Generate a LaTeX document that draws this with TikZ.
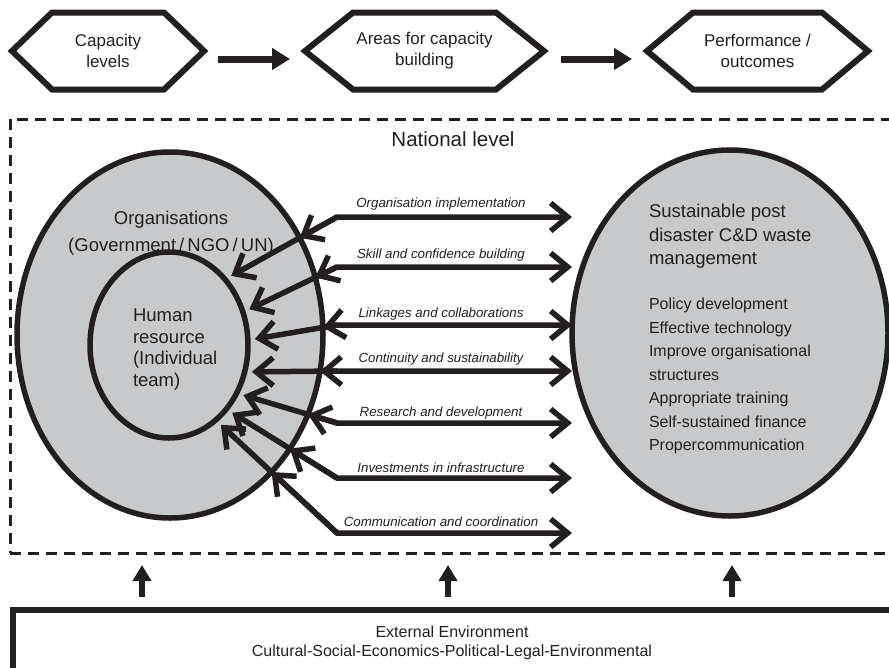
\documentclass[tikz,border=0pt]{standalone}
\usepackage{fontspec}
\setmainfont{Liberation Sans}
\usetikzlibrary{arrows.meta,shapes.geometric,intersections,calc}
\definecolor{fillg}{RGB}{200,201,203}
\definecolor{ink}{RGB}{35,31,32}
\newcommand\hexoutl[2]{\draw[hexline] (#1.west) -- ([xshift=#2]#1.north west) -- ([xshift=-#2]#1.north east) -- (#1.east) -- ([xshift=-#2]#1.south east) -- ([xshift=#2]#1.south west) -- cycle;}
\begin{document}
\begin{tikzpicture}[x=1pt,y=-1pt,
  every node/.style={text=ink, inner sep=0pt, outer sep=0pt},
  hexline/.style={draw=ink, line width=6pt, line join=miter},
  hextext/.style={minimum width=#1, minimum height=77pt, align=center, font=\fontsize{17}{21}\selectfont},
  flowarrow/.style={draw=ink, line width=7pt, -{Triangle[length=18pt,width=21pt]}},
  uparrow/.style={draw=ink, line width=6.5pt, -{Triangle[length=16pt,width=18pt]}},
  blob/.style={ellipse, draw=ink, fill=fillg, line width=5.5pt},
  conn/.style={draw=ink, line width=5.5pt},
  chev/.tip={Straight Barb[length=17pt,width=28pt]},
  lbl/.style={font=\fontsize{13.3}{15}\selectfont\itshape, anchor=base},
]
\useasboundingbox (0,0) rectangle (889,667);
\clip (0,0) rectangle (889,667);

% top flow
\node[hextext=192pt] (h1) at (108,51) {Capacity\\levels};
\node[hextext=239pt] (h2) at (424.5,51) {Areas for capacity\\building};
\node[hextext=221pt] (h3) at (757.5,51) {Performance /\\outcomes};
\hexoutl{h1}{40pt}
\hexoutl{h2}{48pt}
\hexoutl{h3}{46pt}
\draw[flowarrow] ([xshift=14pt,yshift=-8pt]h1.east) -- ([xshift=-15pt,yshift=-8pt]h2.west);
\draw[flowarrow] ([xshift=17pt,yshift=-8pt]h2.east) -- ([xshift=-15pt,yshift=-8pt]h3.west);

% national level frame
\node[draw=ink, dash pattern=on 11pt off 7pt, line width=3pt, minimum width=890pt, minimum height=434pt] (nat) at (455,336) {};
\node[font=\fontsize{20.5}{24}\selectfont] (natl) at (453,139) {National level};

% ellipses
\node[blob, minimum width=306pt, minimum height=366pt] (O) at (170,335) {};
\node[blob, minimum width=158pt, minimum height=186pt, outer sep=7pt] (I) at (169,345) {};
\node[blob, minimum width=316pt, minimum height=366pt] (R) at (730,333) {};

\node[font=\fontsize{18.5}{27}\selectfont, align=center] (orgt) at (171,233) {Organisations\\(Government\,/\,NGO\,/\,UN)};
\node[font=\fontsize{18.5}{21.7}\selectfont, align=left, anchor=north west] (hr) at (133,308.8) {Human\\resource\\(Individual\\team)};
\node[font=\fontsize{18.5}{23.5}\selectfont, align=left, anchor=north west] (sus) at (649,204.5) {Sustainable post\\disaster C\&D waste\\management};
\node[font=\fontsize{16}{23.5}\selectfont, align=left, anchor=north west] (list) at (649,298.3) {Policy development\\Effective technology\\Improve organisational\\structures\\Appropriate training\\Self-sustained finance\\Propercommunication};

% connectors
\path[name path=outerp] (O.center) ellipse [x radius=153pt, y radius=183pt];
\coordinate (b1) at (337,217);
\coordinate (b2) at (337,267);
\coordinate (b3) at (337,325);
\coordinate (b4) at (337,371);
\coordinate (b5) at (337,423);
\coordinate (b6) at (337,478);
\coordinate (b7) at (337,533);
\foreach \i/\a in {1/48.1,2/24.5,3/4.5,4/-18.1,5/-34.2,6/-47,7/-57.2}{
  \path[name path=d\i] (b\i) -- (I.\a);
  \path[name intersections={of=outerp and d\i, by={m\i}}];
  \draw[conn, -chev] (b\i) -- (m\i);
  \draw[conn, chev-chev] (I.\a) -- (b\i) -- (b\i -| R.west);
}
\node[lbl] (l1) at (441,207.5) {Organisation implementation};
\node[lbl] (l2) at (441,258.5) {Skill and confidence building};
\node[lbl] (l3) at (441,317.5) {Linkages and collaborations};
\node[lbl] (l4) at (441,362.5) {Continuity and sustainability};
\node[lbl] (l5) at (441,416.5) {Research and development};
\node[lbl] (l6) at (441,472.5) {Investments in infrastructure};
\node[lbl] (l7) at (441,526.5) {Communication and coordination};

% external environment
\node[minimum width=900pt, minimum height=100pt, anchor=north west] (env) at (13,610) {};
\draw[line width=6pt, draw=ink] (env.south west) -- (env.north west) -- (env.north east);
\node[font=\fontsize{16}{19}\selectfont, align=center] (envt) at (452,643) {External Environment\\Cultural-Social-Economics-Political-Legal-Environmental};
\coordinate (ux1) at (142,0);
\coordinate (ux2) at (448,0);
\coordinate (ux3) at (732,0);
\foreach \k in {1,2,3}{
  \draw[uparrow] ([yshift=13pt]env.north -| ux\k) -- ([yshift=-12pt]nat.south -| ux\k);
}
\end{tikzpicture}
\end{document}
